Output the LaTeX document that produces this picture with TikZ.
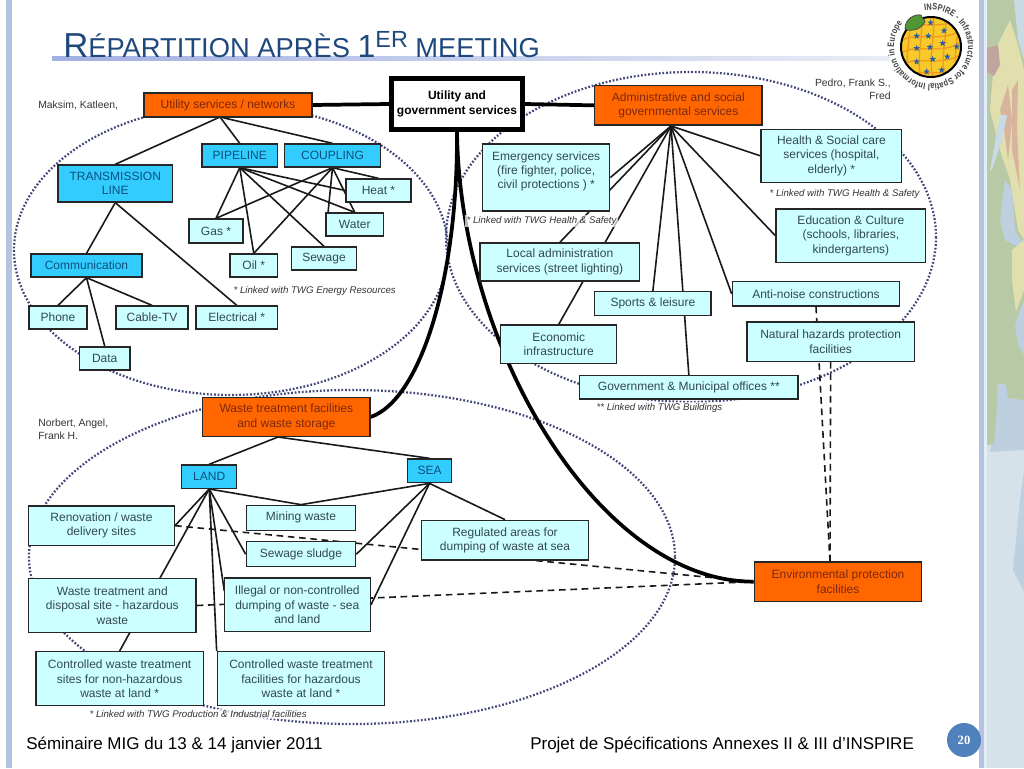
\documentclass[tikz,border=0pt]{standalone}
\usepackage{fontspec}
\setmainfont{Liberation Sans}
\newfontfamily\pagefont{Liberation Serif}
\newfontfamily\logofont[FakeStretch=0.8]{Liberation Sans}
\usetikzlibrary{shapes.geometric,decorations.text}
\pgfdeclarelayer{under}
\pgfsetlayers{under,main}
\definecolor{titleblue}{RGB}{31,73,125}
\definecolor{barblue}{RGB}{180,195,223}
\definecolor{barpale}{RGB}{229,236,245}
\definecolor{boxcyan}{RGB}{204,255,255}
\definecolor{boxblue}{RGB}{51,204,255}
\definecolor{boxorange}{RGB}{255,102,0}
\definecolor{dotblue}{RGB}{64,70,120}
\definecolor{cyantext}{RGB}{50,72,80}
\definecolor{bluetext}{RGB}{10,80,125}
\definecolor{orangetext}{RGB}{125,40,15}
\definecolor{mapgreen}{RGB}{184,201,165}
\definecolor{maptan}{RGB}{226,223,174}
\definecolor{mapred}{RGB}{216,180,156}
\definecolor{mapplum}{RGB}{190,165,160}
\definecolor{mapwater}{RGB}{200,218,228}
\definecolor{mapbay}{RGB}{190,208,224}
\definecolor{mappale}{RGB}{214,226,234}
\definecolor{pageblue}{RGB}{79,129,189}
\definecolor{logoyellow}{RGB}{247,201,42}
\definecolor{logonet}{RGB}{240,154,32}
\definecolor{logostarblue}{RGB}{45,95,165}
\definecolor{logoleaf}{RGB}{80,150,50}
\tikzset{
  basebox/.style={draw=black!85,line width=1pt,inner sep=0pt,align=center,font=\fontsize{9}{10.8}\selectfont},
  cyanbox/.style={basebox,fill=boxcyan,text=cyantext},
  bluebox/.style={basebox,fill=boxblue,text=bluetext},
  orangebox/.style={basebox,fill=boxorange,text=orangetext},
  linknote/.style={inner sep=1pt,font=\fontsize{7.25}{8}\selectfont\itshape,fill=white,fill opacity=.7,text opacity=1,text=black!80},
  namenote/.style={inner sep=0pt,align=left,text=black!80,font=\fontsize{7.8}{9.75}\selectfont},
  link/.style={line width=1.2pt,black!90},
  biglink/.style={line width=2.8pt,black},
  dashlink/.style={line width=1.2pt,black!90,dash pattern=on 5pt off 3.5pt},
  groupring/.style={dotblue,line width=1.7pt,dash pattern=on 1.3pt off 1.4pt},
  logostar/.style={star,star points=5,star point ratio=2.4,fill=logostarblue,inner sep=0pt,minimum size=5.2pt}
}
\begin{document}
\begin{tikzpicture}[x=0.75pt,y=0.75pt,yscale=-1,xscale=1]
\useasboundingbox (0,0) rectangle (1024,768);

%Shape: side bars and map
\fill [barblue] (6,0) rectangle (12,768);
\fill [barblue] (979,0) rectangle (984,768);
\fill [barpale] (984,0) rectangle (987,768);
\fill [mappale] (987,0) rectangle (1024,768);
\fill [mapgreen] (987,0) rectangle (1024,445);
\fill [maptan] (995,50) -- (1010,20) -- (1018,45) -- (1024,70) -- (1024,240) -- (1018,230) -- (1010,180) -- (1000,150) -- (990,110) -- cycle;
\fill [mapred] (1000,110) -- (1008,85) -- (1012,120) -- (1008,160) -- (1004,130) -- cycle;
\fill [mapred] (1012,90) -- (1018,80) -- (1017,130) -- (1020,190) -- (1012,150) -- cycle;
\fill [mapplum] (987,48) -- (998,45) -- (1000,65) -- (994,76) -- (987,72) -- cycle;
\fill [mapwater] (1024,0) -- (1014,0) -- (1018,40) -- (1024,60) -- cycle;
\fill [mapwater] (990,170) -- (1000,115) -- (1007,115) -- (1002,140) -- (992,170) -- cycle;
\fill [mapbay] (1005,180) -- (1012,190) -- (1015,230) -- (1024,245) -- (1020,248) -- (1005,240) -- (1000,220) -- cycle;
\fill [maptan] (1012,250) -- (1024,240) -- (1024,290) -- (1016,312) -- (1012,280) -- cycle;
\fill [mapbay] (1015,325) -- (1024,300) -- (1024,355) -- (1018,345) -- cycle;
\fill [mapbay] (998,384) -- (1024,384) -- (1024,450) -- (990,452) -- cycle;
\fill [mapgreen] (1006,384) -- (1024,384) -- (1024,400) -- (1008,398) -- cycle;
\fill [mapgreen] (987,400) -- (998,395) -- (994,445) -- (987,440) -- cycle;
\fill [mapbay] (1013,570) -- (1020,500) -- (1024,470) -- (1024,592) -- cycle;

%Shape: title bar
\shade [left color=barblue!90!blue,right color=barblue!30] (52,56) rectangle (890,60.5);

% Text Node
\draw (63,57) node [anchor=base west,inner sep=0pt,text=titleblue] (titletext) {\fontsize{26}{26}\selectfont R\fontsize{20.5}{26}\selectfont ÉPARTITION APRÈS \fontsize{24}{26}\selectfont 1\raisebox{7.5pt}{\fontsize{17.5}{26}\selectfont ER}\fontsize{20.5}{26}\selectfont{} MEETING};

%Shape: group rings and connectors
\begin{pgfonlayer}{under}
\draw [groupring] (231,250) ellipse (217 and 145);
\draw [groupring] (691,237) ellipse (245 and 165);
\draw [groupring] (352,557) ellipse (323 and 167);
\end{pgfonlayer}

% Text Node
\draw (457,104) node [basebox,fill=white,draw=black,line width=3.75pt,text=black,minimum width=98.25pt,minimum height=38.25pt,font=\fontsize{9}{10.8}\selectfont\bfseries] (util) {Utility and\\government services};

% Text Node
\draw (228,105) node [orangebox,minimum width=126pt,minimum height=18pt] (us) {Utility services / networks};
\draw (239.75,155.5) node [bluebox,minimum width=56.6pt,minimum height=17.25pt] (pipeline) {PIPELINE};
\draw (332.5,155.5) node [bluebox,minimum width=72pt,minimum height=17.25pt] (coupling) {COUPLING};
\draw (115.25,183.5) node [bluebox,minimum width=85.9pt,minimum height=27.75pt] (trans) {TRANSMISSION\\LINE};
\draw (378.5,190.5) node [cyanbox,minimum width=48.75pt,minimum height=17.25pt] (heat) {Heat *};
\draw (354.75,224.5) node [cyanbox,minimum width=43.1pt,minimum height=17.25pt] (water) {Water};
\draw (216,231) node [cyanbox,minimum width=40.5pt,minimum height=18pt] (gas) {Gas *};
\draw (324,258.5) node [cyanbox,minimum width=48.75pt,minimum height=17.25pt] (sewage) {Sewage};
\draw (253.75,265.5) node [cyanbox,minimum width=35.6pt,minimum height=17.25pt] (oil) {Oil *};
\draw (86.5,265.5) node [bluebox,minimum width=83.25pt,minimum height=17.25pt] (comm) {Communication};
\draw (58,317.5) node [cyanbox,minimum width=43.5pt,minimum height=17.25pt] (phone) {Phone};
\draw (152,317.5) node [cyanbox,minimum width=54pt,minimum height=17.25pt] (cable) {Cable-TV};
\draw (236.75,317.5) node [cyanbox,minimum width=61.1pt,minimum height=17.25pt] (elec) {Electrical *};
\draw (104.75,358.5) node [cyanbox,minimum width=37.9pt,minimum height=17.25pt] (data) {Data};

% Text Node
\draw (678.35,105.35) node [orangebox,minimum width=125.5pt,minimum height=29.5pt] (admin) {Administrative and social\\governmental services};
\draw (831.35,155.8) node [cyanbox,minimum width=105.5pt,minimum height=39.75pt] (health) {Health \& Social care\\services (hospital,\\elderly) *};
\draw (546.2,177.5) node [cyanbox,anchor=center,minimum width=95.25pt,minimum height=50.25pt,text depth=11pt] (emerg) {Emergency services\\(fire fighter, police,\\civil protections ) *};
\draw (850.85,235.65) node [cyanbox,minimum width=112.3pt,minimum height=40pt] (edu) {Education \& Culture\\(schools, libraries,\\kindergartens)};
\draw (559.85,262) node [cyanbox,minimum width=119.8pt,minimum height=28.5pt] (local) {Local administration\\services (street lighting)};
\draw (652.85,303.7) node [cyanbox,minimum width=87.2pt,minimum height=18pt] (sports) {Sports \& leisure};
\draw (816,293.85) node [cyanbox,minimum width=125.5pt,minimum height=18.2pt] (anti) {Anti-noise constructions};
\draw (830.65,341.65) node [cyanbox,minimum width=125.5pt,minimum height=29.5pt] (natural) {Natural hazards protection\\facilities};
\draw (558.7,344.15) node [cyanbox,minimum width=87pt,minimum height=28.7pt] (econ) {Economic\\infrastructure};
\draw (688.85,387.35) node [cyanbox,minimum width=163.7pt,minimum height=17.5pt] (gov) {Government \& Municipal offices **};

% Text Node
\draw (286.35,417) node [orangebox,minimum width=125.5pt,minimum height=29.5pt] (waste) {Waste treatment facilities\\and waste storage};
\draw (209.2,476.65) node [bluebox,minimum width=41.25pt,minimum height=17.5pt] (land) {LAND};
\draw (429.5,470.85) node [bluebox,minimum width=33.3pt,minimum height=17.8pt] (sea) {SEA};
\draw (101.5,525.65) node [cyanbox,minimum width=109.2pt,minimum height=29.5pt] (renov) {Renovation / waste\\delivery sites};
\draw (301,517.8) node [cyanbox,minimum width=82pt,minimum height=18.75pt] (mining) {Mining waste};
\draw (301,554.2) node [cyanbox,minimum width=82pt,minimum height=18.75pt] (sludge) {Sewage sludge};
\draw (505,540.15) node [cyanbox,minimum width=125.5pt,minimum height=29.8pt] (regul) {Regulated areas for\\dumping of waste at sea};
\draw (112.35,605.5) node [cyanbox,minimum width=125.5pt,minimum height=40.2pt] (wtreat) {Waste treatment and\\disposal site - hazardous\\waste};
\draw (297.3,604.85) node [cyanbox,minimum width=109.5pt,minimum height=40.3pt] (illegal) {Illegal or non-controlled\\dumping of waste - sea\\and land};
\draw (119.65,678.7) node [cyanbox,minimum width=125.5pt,minimum height=40.5pt] (ctrll) {Controlled waste treatment\\sites for non-hazardous\\waste at land *};
\draw (301,678.7) node [cyanbox,minimum width=125.5pt,minimum height=40.5pt] (ctrlr) {Controlled waste treatment\\facilities for hazardous\\waste at land *};
\draw (838,581.65) node [orangebox,minimum width=125.5pt,minimum height=29.5pt] (env) {Environmental protection\\facilities};

%Straight Lines
\coordinate (ushub) at (220,117);
\coordinate (adminhub) at (671,126);
\coordinate (wastehub) at (278,437);
\coordinate (couplewater) at (328,213);
\coordinate (illegalwest) at (224.3,591);
\coordinate (envtop) at (830,562);
\begin{pgfonlayer}{under}
\foreach \tgt in {trans.north,pipeline.north,coupling.north}
  \draw [link] (ushub) -- (\tgt);
\foreach \tgt in {gas.north,oil.north,sewage.north,water.north,heat.west}
  \draw [link] (pipeline.south) -- (\tgt);
\foreach \tgt in {gas.north,oil.north,couplewater,water.north,heat.north}
  \draw [link] (coupling.south) -- (\tgt);
\foreach \tgt in {comm.north,elec.north}
  \draw [link] (trans.south) -- (\tgt);
\foreach \tgt in {phone.north,data.north,cable.north}
  \draw [link] (comm.south) -- (\tgt);
\foreach \tgt in {emerg.east,local.north,econ.north,sports.north,gov.north,anti.west,edu.west,health.west}
  \draw [link] (adminhub) -- (\tgt);
\foreach \tgt in {land.north,sea.north}
  \draw [link] (wastehub) -- (\tgt);
\foreach \tgt in {renov.east,ctrll.north,mining.north,sludge.west,illegalwest,ctrlr.north west}
  \draw [link] (land.south) -- (\tgt);
\foreach \tgt in {mining.north,sludge.east,illegal.east,regul.north}
  \draw [link] (sea.south) -- (\tgt);
\draw [dashlink] (renov.east) -- (env.west);
\draw [dashlink] (wtreat.east) -- (env.west);
\draw [dashlink] (anti.south) -- (envtop);
\draw [dashlink] (natural.south) -- (envtop);
\draw [biglink] (us.east) -- (util.west);
\draw [biglink] (util.east) -- (admin.west);
%Curve Lines
\draw [biglink] (util.south) .. controls (458,280) and (420,400) .. (waste.east);
\draw [biglink] (util.south) .. controls (460,350) and (600,582) .. (env.west);
\end{pgfonlayer}

% Text Node
\draw (38,105) node [anchor=west,namenote] (namesa) {Maksim, Katleen,};
\draw (891,89) node [anchor=east,namenote,align=right] (namesb) {Pedro, Frank S.,\\Fred};
\draw (38,429.5) node [anchor=west,namenote] (namesc) {Norbert, Angel,\\Frank H.};
\draw (232,291) node [anchor=west,linknote] (noteenergy) {* Linked with TWG Energy Resources};
\draw (768,194) node [anchor=west,linknote] (notehealtha) {* Linked with TWG Health \& Safety};
\draw (465,221) node [anchor=west,linknote] (notehealthb) {* Linked with TWG Health \& Safety};
\draw (595,408) node [anchor=west,linknote] (notebuild) {** Linked with TWG Buildings};
\draw (88,714) node [anchor=west,linknote] (noteprod) {* Linked with TWG Production \& Industrial facilities};

% Text Node
\draw (26,745) node [anchor=west,inner sep=0pt,font=\fontsize{12.75}{14}\selectfont] (footl) {Séminaire MIG du 13 \& 14 janvier 2011};
\draw (530,745) node [anchor=west,inner sep=0pt,font=\fontsize{12.75}{14}\selectfont] (footr) {Projet de Spécifications Annexes II \& III d’INSPIRE};
\draw (964,740) node [circle,fill=pageblue,minimum size=25.5pt,inner sep=0pt,text=white,font=\pagefont\fontsize{9.5}{10}\selectfont\bfseries] (pagenum) {20};

%Shape: logo
\fill [logoyellow] (931,47) circle (30);
\begin{scope}
\clip (931,47) circle (30);
\foreach \yy in {24,36,48,60,72}
  \draw [logonet,line width=1pt] (900,\yy+6) .. controls (915,\yy-6) and (940,\yy+8) .. (962,\yy-6);
\foreach \xx in {908,920,932,944,956}
  \draw [logonet,line width=1pt] (\xx,14) .. controls (\xx+6,30) and (\xx-6,60) .. (\xx+2,80);
\end{scope}
\draw [black,line width=1.5pt] (931,47) circle (30);
\foreach \sx/\sy [count=\i] in {930.7/22.7,944/30.7,916.7/36,928.3/36,942.7/43.3,916.7/48.3,930/47.3,947.3/56.7,916.7/61.7,932.7/59.3,926.7/71.7,941.7/70,956.7/46.7}
  \draw (\sx,\sy) node [logostar] (star\i) {};
\filldraw [fill=logoleaf,draw=black!70,line width=.6pt] (905,29) .. controls (905,18) and (915,14) .. (921,15) .. controls (921,17) and (925,20) .. (925,22) .. controls (920,30) and (912,32) .. (905,29) -- cycle;
\path [decorate,decoration={text along path,text align={fit to path},text={|\logofont\fontsize{6.9}{7}\selectfont\bfseries\color{black!75}|INSPIRE - Infrastructure for Spatial Information in Europe}}] (924.6,10.6) arc [start angle=-100,end angle=220,radius=37];

\end{tikzpicture}
\end{document}
